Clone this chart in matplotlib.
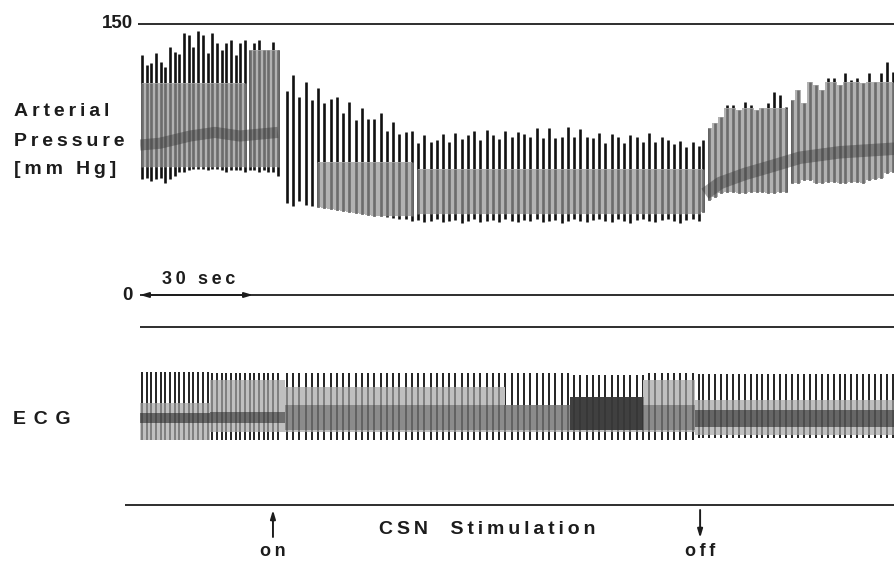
import numpy as np
import matplotlib.pyplot as plt

plt.rcParams['font.family'] = ['Liberation Sans', 'DejaVu Sans']

# time in seconds from the left end of the record
t_on, t_off = 35.3, 148.7

# arterial pressure, one value per beat (mmHg)
pre_span = (0.5, 36.6)
pre_sys = [132.8, 127.3, 128.4, 133.9, 128.9, 126.2, 137.2, 134.5, 133.4, 145.0,
           143.9, 137.2, 146.1, 143.9, 133.9, 145.0, 139.5, 135.6, 139.5, 141.1,
           132.8, 139.5, 141.1, 135.6, 139.5, 141.1, 135.6, 135.6, 140.0, 135.6]
pre_dia = [64, 65, 63, 64, 65, 62, 64, 66, 68, 68, 69, 70, 70, 70, 69,
           70, 70, 69, 68, 69, 69, 69, 68, 69, 69, 68, 69, 68, 68, 66]

stim_span = (39.0, 148.4)
stim_sys = [112.9, 121.7, 109.7, 117.8, 107.9, 114.4, 106.1, 108.3, 109.7, 100.9,
            107.0, 96.8, 103.7, 97.2, 97.2, 100.5, 90.9, 95.9, 89.1, 90.4,
            90.8, 84.0, 88.5, 84.8, 85.8, 89.1, 84.8, 89.8, 86.2, 88.5,
            90.9, 85.8, 91.3, 88.5, 86.2, 90.9, 87.3, 90.4, 89.1, 87.3,
            92.6, 86.7, 92.3, 86.7, 87.6, 92.8, 87.3, 91.7, 87.6, 86.7,
            89.7, 84.3, 89.1, 87.6, 84.0, 88.5, 87.6, 84.8, 89.5, 84.8,
            87.6, 85.8, 83.6, 85.4, 82.1, 84.8, 82.5]
stim_dia = [51, 49, 52, 50, 49, 48.5, 48, 47.5, 47, 46.5,
            46, 45.5, 45, 44.5, 44, 43.5, 43, 42.5, 42, 42,
            41, 41.5, 40.5, 41, 42, 40.5, 41, 41.5, 40, 41,
            42, 40.5, 41, 41.5, 40.5, 42, 41, 40.5, 41.5, 41,
            42, 40.5, 41, 41.5, 40, 41, 42, 41, 40.5, 41.5,
            42, 41, 40.5, 42, 41, 40, 41.5, 42, 41, 40.5,
            41.5, 42, 41, 40, 41.5, 42, 41]

post_span = (149.5, 199.9)
post_sys = [85.8, 92.2, 95.0, 98.7, 105.1, 105.1, 102.4, 107.0, 105.1, 102.4,
            103.3, 106.1, 112.5, 110.7, 104.2, 107.9, 113.4, 106.1, 118.0, 116.2,
            113.4, 119.9, 119.9, 116.2, 122.7, 119.0, 119.9, 117.2, 122.7, 118.0,
            122.7, 129.1, 123.6]
post_dia = [45.9, 52.6, 54.2, 56.4, 57.0, 57.0, 56.4, 56.4, 57.0, 57.0,
            57.0, 56.4, 56.4, 57.0, 57.0, 62.0, 62.0, 63.6, 63.6, 62.0,
            62.0, 62.7, 62.7, 62.0, 62.0, 62.7, 62.7, 62.0, 63.6, 64.0,
            64.7, 67.3, 68.2]

# grey (half-tone) part of the pressure trace
p_band_t0 = [0.0, 28.1, 45.7, 73.0, 150.0, 172.6]
p_band_t1 = [28.1, 37.2, 73.0, 150.0, 172.6, 200.4]
p_band_top = [117.3, 135.5, 73.8, 69.5, 103.5, 118.0]
p_band_bottom = [70.8, 70.8, 44.0, 45.0, 0.0, 0.0]

# darker mean-pressure smear
mean_pre_t = [0, 5.3, 13.3, 19.9, 26.5, 36.6]
mean_pre = [83, 84, 88, 90, 88, 90]
mean_post_t = [150, 154, 160.6, 167.2, 175.2, 185.8, 200.4]
mean_post = [56, 62, 67, 71, 76, 79, 81]

# ECG (arbitrary units), per stretch of the record
ecg_edges = [0.0, 18.6, 38.5, 96.9, 114.1, 133.5, 147.3, 200.4]
ecg_r = [0.49, 0.48, 0.48, 0.48, 0.46, 0.48, 0.47]
ecg_s = [-0.27, -0.27, -0.27, -0.27, -0.27, -0.27, -0.25]
ecg_band_top = [0.15, 0.40, 0.33, 0.12, 0.21, 0.40, 0.18]
ecg_band_bottom = [-0.27, -0.18, -0.18, -0.18, -0.18, -0.18, -0.21]
ecg_dark_top = [0.03, 0.05, 0.12, 0.12, 0.21, 0.12, 0.07]
ecg_dark_bottom = [-0.08, -0.08, -0.16, -0.16, -0.16, -0.16, -0.12]
ecg_dark_alpha = [0.6, 0.55, 0.35, 0.35, 0.85, 0.35, 0.6]

# ---------------------------------------------------------------
W, H = 895, 562
X_LEFT, X_RIGHT = 140, 895
PX_PER_S = 113 / 30
T_MAX = (X_RIGHT - X_LEFT) / PX_PER_S
INK = '#1c1c1c'

fig = plt.figure(figsize=(W / 100, H / 100), dpi=100)
fig.patch.set_facecolor('white')


def fx(x):
    return x / W


def fy(y):
    return 1 - y / H


def spaced(s, n=1):
    return ('\u2009' * n).join(s)


# pressure axes: 150 mmHg at y=24 px, 0 at y=295 px
P_PX = 271 / 150
ax = fig.add_axes([fx(X_LEFT), fy(300), (X_RIGHT - X_LEFT) / W, 290 / H])
ax.set_xlim(0, T_MAX)
ax.set_ylim((295 - 300) / P_PX, (295 - 10) / P_PX)
ax.axis('off')

t_beats = np.concatenate([np.linspace(*pre_span, len(pre_sys)),
                          np.linspace(*stim_span, len(stim_sys)),
                          np.linspace(*post_span, len(post_sys))])
sys_all = np.array(pre_sys + stim_sys + post_sys, dtype=float)
dia_all = np.array(pre_dia + stim_dia + post_dia, dtype=float)

ax.vlines(t_beats, dia_all, sys_all, color='#111111', lw=1.9, zorder=2)
for t0, t1, top, bot in zip(p_band_t0, p_band_t1, p_band_top, p_band_bottom):
    m = (t_beats >= t0) & (t_beats < t1)
    lo = np.maximum(dia_all[m], bot)
    hi = np.minimum(sys_all[m], top)
    ax.fill_between(t_beats[m], lo, hi, step='mid', color='#b2b2b2', lw=0, zorder=3)
    ax.vlines(t_beats[m], lo, hi, color='#6c6c6c', lw=1.9, zorder=4)

ax.plot(mean_pre_t, mean_pre, color='#3a3a3a', lw=8, alpha=0.45,
        solid_capstyle='butt', zorder=5)
ax.plot(mean_post_t, mean_post, color='#3a3a3a', lw=9, alpha=0.45,
        solid_capstyle='butt', zorder=5)

ax.hlines(150, -0.5, T_MAX, color=INK, lw=1.3, clip_on=False)
ax.hlines(0, 0, T_MAX, color=INK, lw=1.3, clip_on=False)
ax.annotate('', xy=(0, 0), xytext=(30, 0), annotation_clip=False,
            arrowprops=dict(arrowstyle='<|-|>,head_length=0.5,head_width=0.15',
                            color=INK, lw=1.3, shrinkA=0, shrinkB=0))

# ECG axes between the lines at y=327 and y=505 px
ax2 = fig.add_axes([fx(X_LEFT), fy(505), (X_RIGHT - X_LEFT) / W, 178 / H])
ax2.set_xlim(0, T_MAX)
ax2.set_ylim(-1, 1)
ax2.axis('off')

seg = np.clip(np.searchsorted(ecg_edges, t_beats, side='right') - 1, 0, len(ecg_r) - 1)
r_all = np.array(ecg_r)[seg]
s_all = np.array(ecg_s)[seg]
ax2.vlines(t_beats, s_all, r_all, color='#111111', lw=1.3, zorder=2)
for i in range(len(ecg_r)):
    m = seg == i
    e0, e1 = ecg_edges[i], ecg_edges[i + 1]
    lo = max(ecg_s[i], ecg_band_bottom[i])
    hi = min(ecg_r[i], ecg_band_top[i])
    ax2.fill_between([e0, e1], lo, hi, color='#c0c0c0', lw=0, zorder=3)
    ax2.vlines(t_beats[m], lo, hi, color='#7a7a7a', lw=1.3, zorder=4)
    ax2.fill_between([e0, e1], ecg_dark_bottom[i], ecg_dark_top[i],
                     color='#2a2a2a', alpha=ecg_dark_alpha[i], lw=0, zorder=5)

ax2.hlines(1, 0, T_MAX, color=INK, lw=1.3, clip_on=False)
ax2.hlines(-1, (125 - X_LEFT) / PX_PER_S, T_MAX, color=INK, lw=1.3, clip_on=False)

E_PX = 89  # px per ECG unit, centre at y=416 px
ax2.annotate('', xy=(t_on, (416 - 510) / E_PX), xytext=(t_on, (416 - 537) / E_PX),
             annotation_clip=False,
             arrowprops=dict(arrowstyle='-|>,head_length=0.5,head_width=0.15',
                             color=INK, lw=1.4, shrinkA=0, shrinkB=0))
ax2.annotate('', xy=(t_off, (416 - 538) / E_PX), xytext=(t_off, (416 - 510) / E_PX),
             annotation_clip=False,
             arrowprops=dict(arrowstyle='-|>,head_length=0.5,head_width=0.15',
                             color=INK, lw=1.4, shrinkA=0, shrinkB=0))

# labels
lab = dict(color=INK, fontweight='bold')
fig.text(fx(133), fy(24), '150', ha='right', va='center', fontsize=13.5, **lab)
fig.text(fx(133), fy(296), '0', ha='right', va='center', fontsize=13.5, **lab)
fig.text(fx(14), fy(111), spaced('Arterial'), ha='left', va='center', fontsize=14, **lab)
fig.text(fx(14), fy(141), spaced('Pressure'), ha='left', va='center', fontsize=14, **lab)
fig.text(fx(14), fy(169), spaced('[mm Hg]'), ha='left', va='center', fontsize=14, **lab)
fig.text(fx(162), fy(279), spaced('30 sec'), ha='left', va='center', fontsize=13, **lab)
fig.text(fx(13), fy(420), spaced('ECG', 2), ha='left', va='center', fontsize=14, **lab)
fig.text(fx(487), fy(530), spaced('CSN  Stimulation'), ha='center', va='center',
         fontsize=14, **lab)
fig.text(fx(273), fy(551), spaced('on'), ha='center', va='center', fontsize=13, **lab)
fig.text(fx(700), fy(552), spaced('off'), ha='center', va='center', fontsize=13, **lab)

fig.savefig('out.png', dpi=100, facecolor='white')
